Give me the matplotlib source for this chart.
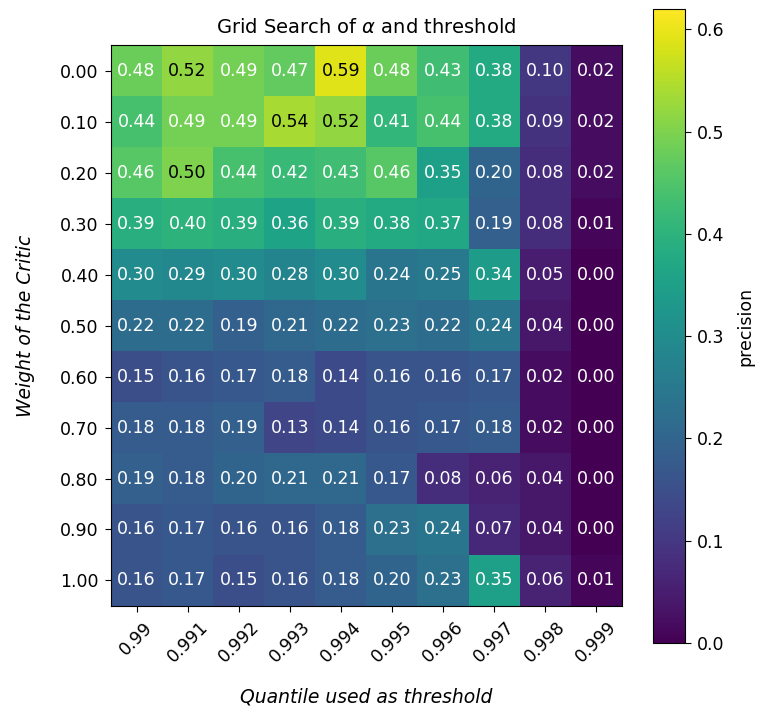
import numpy as np
import matplotlib
matplotlib.use('Agg')
import matplotlib.pyplot as plt

plt.rcParams['font.family'] = ['DejaVu Sans']
plt.rcParams['xtick.major.size'] = 4.4
plt.rcParams['ytick.major.size'] = 4.4
plt.rcParams['xtick.major.pad'] = 4.4
plt.rcParams['ytick.major.pad'] = 4.4

# Grid search results: rows = weight of the critic (alpha), cols = quantile threshold
alphas = ['0.00', '0.10', '0.20', '0.30', '0.40', '0.50', '0.60', '0.70', '0.80', '0.90', '1.00']
quantiles = ['0.99', '0.991', '0.992', '0.993', '0.994', '0.995', '0.996', '0.997', '0.998', '0.999']

precision = np.array([
    [0.48, 0.52, 0.49, 0.47, 0.59, 0.48, 0.43, 0.38, 0.10, 0.02],
    [0.44, 0.49, 0.49, 0.54, 0.52, 0.41, 0.44, 0.38, 0.09, 0.02],
    [0.46, 0.50, 0.44, 0.42, 0.43, 0.46, 0.35, 0.20, 0.08, 0.02],
    [0.39, 0.40, 0.39, 0.36, 0.39, 0.38, 0.37, 0.19, 0.08, 0.01],
    [0.30, 0.29, 0.30, 0.28, 0.30, 0.24, 0.25, 0.34, 0.05, 0.00],
    [0.22, 0.22, 0.19, 0.21, 0.22, 0.23, 0.22, 0.24, 0.04, 0.00],
    [0.15, 0.16, 0.17, 0.18, 0.14, 0.16, 0.16, 0.17, 0.02, 0.00],
    [0.18, 0.18, 0.19, 0.13, 0.14, 0.16, 0.17, 0.18, 0.02, 0.00],
    [0.19, 0.18, 0.20, 0.21, 0.21, 0.17, 0.08, 0.06, 0.04, 0.00],
    [0.16, 0.17, 0.16, 0.16, 0.18, 0.23, 0.24, 0.07, 0.04, 0.00],
    [0.16, 0.17, 0.15, 0.16, 0.18, 0.20, 0.23, 0.35, 0.06, 0.01],
])

fs = 12.5
lfs = 13.5

fig = plt.figure(figsize=(7.57, 7.10), dpi=100)
ax = fig.add_axes([0.1466, 0.1465, 0.675, 0.790])
cax = fig.add_axes([0.8626, 0.0944, 0.0423, 0.893])

im = ax.imshow(precision, cmap='viridis', vmin=0.0, vmax=0.62, aspect='auto')

for i in range(len(alphas)):
    for j in range(len(quantiles)):
        v = precision[i, j]
        ax.text(j, i, f'{v:.2f}', ha='center', va='center',
                color='black' if v >= 0.5 else 'white', fontsize=fs)

ax.set_xticks(range(len(quantiles)))
ax.set_xticklabels(quantiles, rotation=45, fontsize=fs)
ax.set_yticks(range(len(alphas)))
ax.set_yticklabels(alphas, fontsize=fs)
ax.set_xlabel('Quantile used as threshold', style='italic', fontsize=lfs, labelpad=15)
ax.set_ylabel('Weight of the Critic', style='italic', fontsize=lfs, labelpad=18)
ax.set_title(r'Grid Search of $\alpha$ and threshold', fontsize=14, pad=9)

cb = fig.colorbar(im, cax=cax)
cb.set_label('precision', fontsize=fs, labelpad=8)
cb.ax.tick_params(labelsize=fs)

plt.savefig('out.png', dpi=100)
plt.close()
